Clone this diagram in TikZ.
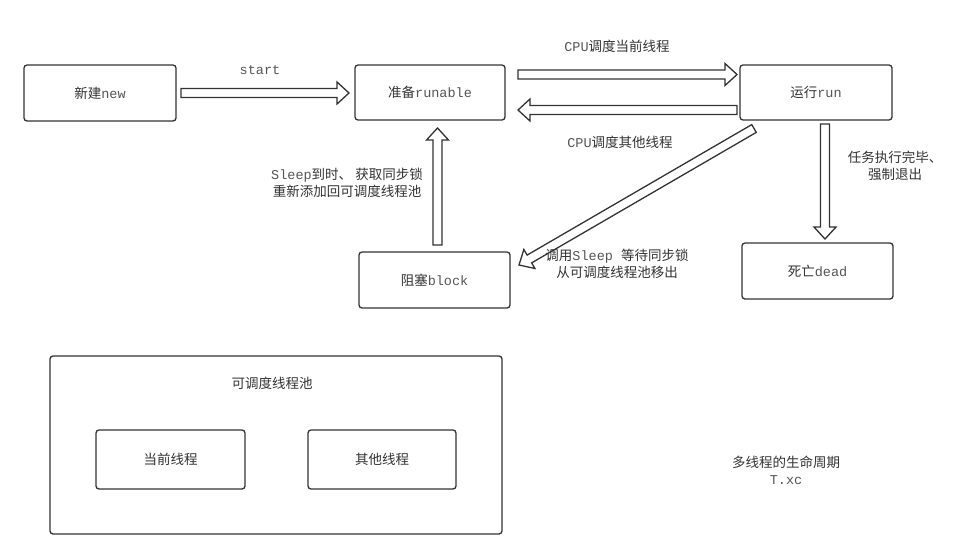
\documentclass[tikz,border=0pt]{standalone}
\usepackage{fontspec}
\setmainfont{Noto Sans CJK SC}
\setmonofont{Liberation Mono}
\usetikzlibrary{calc}
\definecolor{ink}{HTML}{333333}
\definecolor{txt}{HTML}{333333}
\definecolor{mono}{HTML}{555555}
\newcommand\mt[1]{{\ttfamily\color{mono}#1}}
\newcommand\flexarrow[2]{%
  \coordinate (fab) at ($(#2)!12pt!(#1)$);
  \draw[flex] ($(#1)!4.5pt!90:(#2)$) -- ($(fab)!4.5pt!-90:(#1)$) -- ($(fab)!11pt!-90:(#1)$) -- (#2)
     -- ($(fab)!11pt!90:(#1)$) -- ($(fab)!4.5pt!90:(#1)$) -- ($(#1)!4.5pt!-90:(#2)$) -- cycle;}
\tikzset{
  box/.style={draw=ink, line width=1.3pt, rounded corners=3pt, fill=white, text=txt,
    font=\fontsize{13.5}{17}\selectfont, inner sep=0pt},
  flex/.style={draw=ink, line width=1.3pt, fill=white, line join=miter},
  lbl/.style={text=txt, font=\fontsize{13.5}{17}\selectfont, align=center, inner sep=0pt},
}
\begin{document}
\begin{tikzpicture}[x=1pt, y=-1pt]
\useasboundingbox[fill=white] (0,0) rectangle (974,558);
% state boxes
\node[box, minimum width=152, minimum height=56] (new) at (100,93) {新建\mt{new}};
\node[box, minimum width=150, minimum height=55] (runable) at (430,92.5) {准备\mt{runable}};
\node[box, minimum width=152, minimum height=55] (run) at (816,92.5) {运行\mt{run}};
\node[box, minimum width=151, minimum height=56] (block) at (434.5,280) {阻塞\mt{block}};
\node[box, minimum width=151, minimum height=56] (dead) at (817.5,271) {死亡\mt{dead}};
% pool
\node[box, minimum width=452, minimum height=178] (pool) at (276,445) {};
\node[lbl] (pooltitle) at (272,383) {可调度线程池};
\node[box, minimum width=149, minimum height=59] (cur) at (170.5,459.5) {当前线程};
\node[box, minimum width=148, minimum height=59] (oth) at (382,459.5) {其他线程};
% arrow end points
\coordinate (a1s) at (181,93);   \coordinate (a1e) at (349,93);
\coordinate (a2s) at (518,74.5); \coordinate (a2e) at (737,74.5);
\coordinate (a3s) at (737,110);  \coordinate (a3e) at (518,110);
\coordinate (a4s) at (437.5,245);\coordinate (a4e) at (437.5,128);
\coordinate (a5s) at (825,124);  \coordinate (a5e) at (825,239);
\coordinate (a6s) at (754,128.5);\coordinate (a6e) at (519,265);
\flexarrow{a1s}{a1e}
\flexarrow{a2s}{a2e}
\flexarrow{a3s}{a3e}
\flexarrow{a4s}{a4e}
\flexarrow{a5s}{a5e}
\flexarrow{a6s}{a6e}
% labels
\node[lbl] (lstart) at (260,70) {\mt{start}};
\node[lbl] (lcpu1) at (617,46) {\mt{CPU}调度当前线程};
\node[lbl] (lcpu2) at (620,142) {\mt{CPU}调度其他线程};
\node[lbl] (lsleep) at (347,183) {\mt{Sleep}到时、 获取同步锁\\重新添加回可调度线程池};
\node[lbl] (lcall) at (617,264) {调用\mt{Sleep\ }等待同步锁\\从可调度线程池移出};
\node[lbl] (ltask) at (895,166) {任务执行完毕、\\强制退出};
\node[lbl] (ltitle) at (786,470) {多线程的生命周期\\\mt{T.xc}};
\end{tikzpicture}
\end{document}
